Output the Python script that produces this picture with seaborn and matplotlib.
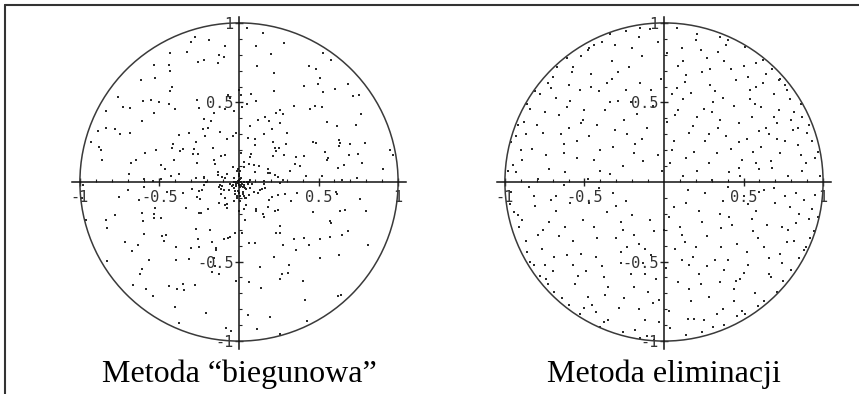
import numpy as np
import pandas as pd
import matplotlib
matplotlib.use('Agg')
import matplotlib.pyplot as plt
from matplotlib.patches import Circle
from matplotlib.lines import Line2D
from matplotlib.ticker import FixedLocator, FixedFormatter
import seaborn as sns

# Metoda "biegunowa": promien i kat (stopnie)
polar_r = [
    0.83, 0.12, 0.47, 0.95, 0.31, 0.06, 0.68, 0.54, 0.22, 0.79, 0.40, 0.91, 0.15, 0.63, 0.03, 0.37, 0.86, 0.58, 0.26, 0.72,
    0.09, 0.44, 0.97, 0.18, 0.66, 0.51, 0.29, 0.81, 0.02, 0.35, 0.74, 0.13, 0.59, 0.88, 0.42, 0.20, 0.69, 0.07, 0.93, 0.48,
    0.25, 0.77, 0.61, 0.11, 0.39, 0.84, 0.56, 0.04, 0.70, 0.33, 0.99, 0.17, 0.46, 0.64, 0.28, 0.89, 0.08, 0.52, 0.75, 0.36,
    0.60, 0.14, 0.87, 0.43, 0.01, 0.78, 0.30, 0.55, 0.92, 0.21, 0.67, 0.10, 0.49, 0.82, 0.38, 0.05, 0.73, 0.27, 0.96, 0.57,
    0.19, 0.65, 0.41, 0.90, 0.08, 0.53, 0.76, 0.32, 0.16, 0.85, 0.62, 0.04, 0.45, 0.71, 0.24, 0.98, 0.34, 0.11, 0.80, 0.50,
    0.93, 0.27, 0.06, 0.58, 0.81, 0.14, 0.44, 0.69, 0.37, 0.02, 0.87, 0.55, 0.20, 0.74, 0.09, 0.63, 0.41, 0.96, 0.30, 0.12,
    0.47, 0.78, 0.23, 0.03, 0.66, 0.39, 0.91, 0.15, 0.57, 0.84, 0.07, 0.33, 0.72, 0.50, 0.18, 0.88, 0.26, 0.61, 0.05, 0.95,
    0.35, 0.10, 0.82, 0.54, 0.29, 0.97, 0.13, 0.68, 0.42, 0.01, 0.76, 0.22, 0.59, 0.86, 0.31, 0.08, 0.64, 0.45, 0.90, 0.17,
    0.70, 0.04, 0.52, 0.37, 0.89, 0.19, 0.62, 0.28, 0.06, 0.80, 0.43, 0.94, 0.11, 0.56, 0.73, 0.25, 0.02, 0.67, 0.40, 0.85,
    0.14, 0.58, 0.99, 0.32, 0.07, 0.75, 0.48, 0.21, 0.83, 0.60, 0.03, 0.36, 0.92, 0.16, 0.65, 0.44, 0.79, 0.09, 0.53, 0.27,
    0.88, 0.41, 0.12, 0.69, 0.24, 0.05, 0.57, 0.93, 0.34, 0.77, 0.18, 0.62, 0.01, 0.46, 0.85, 0.30, 0.71, 0.10, 0.55, 0.97,
    0.06, 0.36, 0.74, 0.20, 0.90, 0.51, 0.13, 0.66, 0.39, 0.02, 0.81, 0.27, 0.59, 0.95, 0.08, 0.43, 0.68, 0.15, 0.87, 0.33,
    0.52, 0.96, 0.03, 0.29, 0.63, 0.84, 0.17, 0.47, 0.75, 0.10, 0.38, 0.91, 0.22, 0.06, 0.70, 0.55, 0.14, 0.82, 0.40, 0.64,
    0.23, 0.79, 0.45, 0.07, 0.98, 0.32, 0.58, 0.12, 0.86, 0.49, 0.04, 0.67, 0.35, 0.93, 0.19, 0.61, 0.28, 0.01, 0.76, 0.50,
    0.92, 0.15, 0.60, 0.38, 0.09, 0.73, 0.26, 0.85, 0.54, 0.03, 0.42, 0.97, 0.18, 0.65, 0.31, 0.80, 0.05, 0.48, 0.71, 0.11,
    0.37, 0.68, 0.02, 0.89, 0.44, 0.21, 0.77, 0.56, 0.08, 0.94, 0.33, 0.62, 0.13, 0.50, 0.83, 0.27, 0.72, 0.40, 0.06, 0.59,
    0.81, 0.25, 0.53, 0.14, 0.70, 0.99, 0.36, 0.04, 0.61, 0.43, 0.88, 0.19, 0.74, 0.09, 0.47, 0.30, 0.95, 0.57, 0.16, 0.66,
    0.11, 0.49, 0.87, 0.63, 0.01, 0.34, 0.78, 0.24, 0.92, 0.55, 0.07, 0.69, 0.41, 0.85, 0.20, 0.03, 0.58, 0.76, 0.29, 0.96,
    0.64, 0.08, 0.39, 0.82, 0.17, 0.57, 0.93, 0.45, 0.12, 0.73, 0.28, 0.05, 0.86, 0.52, 0.35, 0.67, 0.10, 0.90, 0.22, 0.44,
    0.02, 0.75, 0.31, 0.54, 0.97, 0.16, 0.62, 0.40, 0.84, 0.06, 0.48, 0.79, 0.26, 0.11, 0.68, 0.91, 0.37, 0.59, 0.04, 0.83,
]
polar_phi = [
    17, 203, 88, 311, 146, 262, 45, 179, 330, 97, 228, 5, 154, 276, 63, 349, 121, 237, 192, 72,
    289, 136, 12, 245, 168, 57, 321, 99, 214, 340, 81, 193, 258, 29, 115, 302, 176, 8, 224, 150,
    67, 352, 131, 208, 24, 274, 159, 93, 317, 41, 186, 239, 110, 295, 3, 167, 250, 78, 336, 127,
    218, 49, 283, 161, 103, 9, 345, 197, 265, 139, 34, 308, 84, 222, 172, 357, 56, 128, 247, 19,
    143, 298, 73, 233, 351, 118, 187, 266, 38, 157, 325, 209, 94, 14, 279, 181, 62, 327, 106, 252,
    36, 174, 316, 90, 208, 339, 22, 141, 255, 75, 196, 284, 124, 2, 163, 231, 309, 53, 189, 272,
    101, 240, 11, 182, 293, 58, 166, 343, 216, 129, 271, 31, 148, 314, 86, 199, 358, 69, 227, 152,
    261, 113, 347, 27, 155, 296, 77, 209, 5, 133, 243, 171, 318, 96, 43, 286, 190, 119, 334, 65,
    184, 312, 60, 137, 229, 18, 268, 105, 348, 213, 46, 160, 290, 82, 241, 7, 173, 329, 124, 256,
    329, 15, 194, 273, 85, 221, 142, 300, 52, 178, 6, 259, 118, 355, 202, 68, 236, 144, 28, 305,
    112, 246, 33, 170, 320, 91, 201, 277, 149, 13, 226, 353, 74, 188, 299, 40, 135, 263, 97, 211,
    248, 79, 303, 16, 158, 234, 61, 344, 120, 281, 195, 37, 253, 107, 332, 175, 21, 287, 147, 50,
    4, 165, 230, 98, 336, 44, 280, 153, 212, 71, 313, 126, 185, 359, 247, 89, 162, 26, 306, 198,
    335, 140, 55, 292, 10, 218, 117, 256, 83, 178, 322, 20, 239, 145, 66, 301, 200, 352, 100, 168,
    72, 288, 183, 39, 260, 125, 341, 59, 205, 297, 152, 87, 270, 1, 219, 109, 315, 238, 30, 193,
    206, 23, 326, 134, 251, 180, 47, 310, 95, 267, 12, 163, 229, 338, 76, 204, 127, 285, 346, 54,
    158, 307, 96, 214, 42, 285, 191, 138, 354, 64, 243, 117, 19, 275, 170, 324, 81, 226, 3, 132,
    294, 62, 171, 8, 236, 111, 324, 192, 42, 254, 99, 345, 150, 223, 25, 278, 203, 137, 70, 312,
    46, 219, 279, 122, 347, 14, 109, 251, 188, 333, 78, 207, 56, 295, 144, 9, 263, 37, 174, 234,
    268, 156, 94, 319, 57, 241, 337, 15, 129, 190, 305, 51, 221, 164, 282, 102, 18, 215, 327, 146,
]

# Metoda eliminacji: punkty (x, y)
elim_x = [
    0.42, -0.63, 0.15, -0.27, 0.81, -0.92, 0.05, 0.66, -0.39, -0.74, 0.28, 0.93, -0.11, 0.57, -0.52, 0.36, -0.84, 0.09, 0.72, -0.18,
    0.49, -0.68, 0.21, -0.45, 0.87, -0.06, 0.61, -0.33, 0.18, -0.89, 0.77, -0.57, 0.34, -0.24, 0.53, -0.71, 0.02, 0.44, -0.14, -0.96,
    0.69, -0.38, 0.12, 0.85, -0.61, 0.31, -0.48, 0.58, -0.21, 0.97, -0.79, 0.25, -0.03, 0.63, -0.55, 0.39, -0.86, 0.14, 0.75, -0.29,
    -0.64, 0.47, -0.09, 0.22, -0.42, 0.91, -0.76, 0.07, 0.54, -0.35, 0.83, -0.17, 0.38, -0.93, 0.11, -0.51, 0.67, -0.26, 0.29, -0.69,
    0.46, -0.04, 0.79, -0.58, 0.17, -0.81, 0.59, -0.31, 0.03, 0.71, -0.47, 0.26, -0.72, 0.51, -0.13, 0.88, -0.41, 0.33, -0.87, 0.64,
    -0.22, 0.41, -0.66, 0.16, -0.36, 0.94, -0.53, 0.08, 0.73, -0.95, 0.35, -0.12, 0.56, -0.78, 0.23, -0.44, 0.82, -0.07, 0.48, -0.62,
    0.13, -0.83, 0.62, -0.28, 0.37, -0.49, 0.76, -0.16, 0.04, 0.52, -0.73, 0.27, -0.34, 0.89, -0.59, 0.19, -0.05, 0.68, -0.91, 0.38,
    -0.25, 0.58, -0.67, 0.12, -0.43, 0.84, -0.19, 0.45, -0.82, 0.32, -0.34, 0.98, -0.37, 0.06, 0.71, -0.63, 0.24, -0.08, 0.55, -0.88,
    0.37, -0.46, 0.14, 0.86, -0.27, 0.49, -0.70, 0.02, 0.63, -0.32, 0.78, -0.57, 0.21, -0.97, 0.44, -0.15, 0.69, -0.40, 0.10, -0.74,
    0.53, -0.20, 0.30, -0.60, 0.80, -0.10, 0.35, -0.85, 0.60, -0.23, 0.17, -0.50, 0.74, -0.38, 0.90, -0.65, 0.27, -0.01, 0.50, -0.77,
    0.19, -0.52, 0.66, -0.30, 0.09, 0.85, -0.70, 0.40, -0.16, 0.57, -0.89, 0.31, -0.44, 0.76, -0.11, 0.22, -0.62, 0.47, -0.35, 0.95,
    -0.80, 0.06, 0.39, -0.56, 0.70, -0.24, 0.14, -0.93, 0.52, -0.06, 0.80, -0.47, 0.28, -0.72, 0.61, -0.13, 0.43, -0.44, 0.01, 0.89,
    -0.37, 0.65, -0.84, 0.26, -0.19, 0.40, -0.59, 0.35, -0.24, 0.73, -0.69, 0.11, 0.58, -0.09, 0.92, -0.53, 0.20, -0.41, 0.67, -0.75,
    0.33, -0.27, 0.84, -0.02, 0.46, -0.90, 0.15, -0.48, 0.60, -0.14, 0.74, -0.61, 0.29, -0.33, 0.50, -0.79, 0.07, 0.36, -0.55, 0.82,
    -0.18, 0.62, -0.42, 0.24, -0.68, 0.13, 0.79, -0.30, 0.54, -0.94, 0.03, 0.42, -0.50, 0.97, -0.21, 0.24, -0.60, 0.68, -0.12, 0.18,
    -0.86, 0.55, -0.36, 0.72, -0.07, 0.41, -0.66, 0.88, -0.26, 0.16, -0.15, 0.64, -0.82, 0.27, -0.51, 0.86, -0.20, 0.45, -0.73, 0.09,
    0.59, -0.39, 0.34, -0.98, 0.77, -0.12, 0.21, -0.48, 0.50, -0.32, 0.69, -0.04, 0.38, -0.75, 0.93, -0.23, 0.11, -0.63, 0.56, -0.43,
    0.25, -0.87, 0.71, -0.16, 0.44, -0.54, 0.83, -0.31, 0.05, 0.63, -0.71, 0.28, -0.25, 0.53, -0.96, 0.14, -0.40, 0.78, -0.08, 0.37,
    -0.60, 0.48, -0.29, 0.91, -0.47, 0.23, -0.81, 0.60, 0.00, 0.32, -0.52, 0.73, -0.19, 0.40, -0.76, 0.08, 0.66, -0.34, 0.20, -0.57,
    0.87, -0.03, 0.47, -0.68, 0.12, 0.51, -0.40, 0.35, -0.92, 0.76, -0.15, 0.30, -0.61, 0.95, -0.26, 0.16, -0.78, 0.58, -0.46, 0.04,
]
elim_y = [
    0.71, 0.18, -0.86, -0.44, 0.33, -0.21, 0.55, -0.58, 0.88, -0.61, 0.12, -0.17, -0.97, 0.49, 0.37, -0.29, 0.46, -0.63, 0.64, 0.24,
    -0.81, -0.09, 0.93, -0.77, 0.07, -0.31, 0.22, 0.65, -0.47, 0.14, -0.38, -0.52, 0.82, -0.12, -0.14, 0.59, 0.38, -0.67, 0.79, -0.06,
    0.41, -0.88, 0.04, -0.48, 0.78, -0.91, 0.02, 0.75, -0.58, 0.19, -0.33, 0.46, -0.74, -0.05, 0.26, 0.29, -0.44, 0.67, -0.62, 0.51,
    -0.73, 0.09, 0.96, -0.18, -0.35, 0.36, 0.31, -0.42, 0.58, -0.66, -0.26, 0.43, -0.55, 0.29, 0.84, -0.24, 0.13, -0.94, 0.61, -0.47,
    -0.39, 0.17, 0.52, 0.69, -0.75, -0.15, -0.78, 0.33, -0.22, 0.27, 0.84, -0.07, 0.08, 0.85, -0.51, -0.11, 0.57, -0.83, -0.37, 0.34,
    0.72, -0.22, 0.42, 0.31, -0.19, -0.31, -0.83, 0.59, -0.45, 0.11, 0.39, -0.87, -0.31, 0.55, -0.64, 0.14, 0.44, 0.48, -0.61, -0.28,
    -0.38, 0.21, 0.62, -0.79, 0.53, -0.56, -0.09, 0.91, -0.92, 0.27, -0.64, 0.78, 0.05, -0.41, 0.51, 0.19, -0.61, 0.71, -0.28, -0.90,
    0.39, -0.18, 0.72, 0.52, -0.47, 0.23, -0.33, 0.64, -0.52, -0.49, 0.93, 0.04, -0.71, 0.26, -0.69, -0.02, 0.69, -0.46, 0.41, 0.38,
    -0.12, 0.68, -0.96, 0.49, -0.25, 0.14, -0.56, 0.81, -0.41, 0.22, 0.04, -0.37, 0.41, -0.14, -0.75, 0.62, 0.55, -0.91, -0.28, 0.17,
    -0.52, 0.84, 0.01, 0.61, -0.55, -0.69, 0.91, -0.03, 0.08, -0.41, 0.56, 0.45, -0.28, -0.60, 0.31, 0.30, -0.34, 0.07, 0.73, -0.42,
    -0.86, 0.79, 0.30, -0.15, 0.73, -0.20, 0.66, -0.03, -0.80, -0.70, -0.24, 0.50, -0.28, 0.61, 0.34, -0.58, 0.06, 0.37, -0.87, -0.08,
    0.36, -0.16, 0.86, -0.64, -0.13, 0.58, 0.15, 0.06, -0.44, -0.99, 0.39, 0.29, -0.72, -0.25, 0.47, 0.13, -0.27, 0.86, -0.54, 0.12,
    0.45, -0.27, -0.50, 0.26, -0.66, 0.89, -0.13, -0.63, 0.95, 0.18, -0.69, -0.49, 0.60, -0.24, -0.35, 0.58, 0.89, -0.04, -0.60, 0.44,
    0.18, -0.51, 0.34, 0.65, -0.84, 0.20, -0.05, -0.72, 0.32, 0.27, -0.51, -0.46, 0.71, 0.76, -0.09, 0.02, 0.42, -0.41, 0.15, -0.37,
    -0.93, 0.77, 0.36, -0.25, 0.53, 0.63, -0.16, -0.35, 0.52, -0.19, -0.81, 0.21, -0.79, -0.22, 0.50, -0.94, 0.34, 0.09, -0.42, 0.35,
    0.49, -0.23, 0.62, 0.45, -0.76, 0.06, -0.34, -0.43, 0.10, -0.67, 0.97, 0.68, -0.09, -0.53, 0.39, 0.17, -0.21, -0.62, 0.62, 0.45,
    -0.35, -0.53, 0.34, 0.07, 0.58, -0.58, 0.07, 0.83, -0.57, -0.07, -0.04, 0.88, 0.76, -0.52, 0.26, 0.30, -0.33, 0.24, 0.19, -0.82,
    -0.87, 0.30, 0.37, -0.39, 0.48, -0.59, -0.07, 0.86, 0.20, -0.75, -0.11, 0.30, -0.73, 0.66, 0.25, -0.13, 0.20, -0.30, 0.58, -0.80,
    -0.77, 0.04, 0.69, -0.23, -0.13, 0.83, 0.57, -0.06, -0.30, 0.57, -0.45, 0.65, 0.18, -0.49, -0.30, 0.97, -0.48, 0.50, -0.41, 0.72,
    0.41, -0.88, 0.25, -0.18, 0.76, -0.83, 0.07, -0.20, 0.36, 0.26, -0.98, 0.44, 0.47, 0.15, -0.30, -0.52, -0.59, 0.12, 0.60, 0.12,
]

tick_values = [-1, -0.5, 0.5, 1]
tick_labels = ['-1', '-0.5', '0.5', '1']
minor_ticks = [-0.9, -0.8, -0.7, -0.6, -0.4, -0.3, -0.2, -0.1,
               0.1, 0.2, 0.3, 0.4, 0.6, 0.7, 0.8, 0.9]
captions = ['Metoda \u201cbiegunowa\u201d', 'Metoda eliminacji']

sns.set_style('white')
plt.rcParams['font.family'] = ['DejaVu Sans Mono']
plt.rcParams['axes.unicode_minus'] = False

W, H = 859, 394
fig = plt.figure(figsize=(W / 100, H / 100), dpi=100)

phi = np.deg2rad(polar_phi)
polar_df = pd.DataFrame({'x': np.array(polar_r) * np.cos(phi),
                         'y': np.array(polar_r) * np.sin(phi)})
elim_df = pd.DataFrame({'x': elim_x, 'y': elim_y})

centers = [239, 664]
for cx, df, caption in zip(centers, [polar_df, elim_df], captions):
    ax = fig.add_axes([(cx - 175) / W, (H - 182 - 175) / H, 350 / W, 350 / H])
    sns.scatterplot(data=df, x='x', y='y', ax=ax, s=1.1, marker='s',
                    color='#2a2a2a', linewidth=0, legend=False)
    ax.add_patch(Circle((0, 0), 1, fill=False, edgecolor='#3a3a3a', lw=1.1))
    ax.set_xlim(-1.1, 1.1)
    ax.set_ylim(-1.1, 1.1)
    ax.set_aspect('equal')
    ax.set_xlabel('')
    ax.set_ylabel('')
    for side in ['top', 'right']:
        ax.spines[side].set_visible(False)
    ax.spines['left'].set_position('zero')
    ax.spines['bottom'].set_position('zero')
    ax.spines['bottom'].set_bounds(-1.05, 1.05)
    ax.spines['left'].set_bounds(-1.05, 1.04)
    for side in ['left', 'bottom']:
        ax.spines[side].set_color('#111111')
        ax.spines[side].set_linewidth(1.1)
    ax.xaxis.set_major_locator(FixedLocator(tick_values))
    ax.xaxis.set_major_formatter(FixedFormatter(tick_labels))
    ax.yaxis.set_major_locator(FixedLocator(tick_values))
    ax.yaxis.set_major_formatter(FixedFormatter(tick_labels))
    ax.xaxis.set_minor_locator(FixedLocator(minor_ticks))
    ax.yaxis.set_minor_locator(FixedLocator(minor_ticks))
    ax.tick_params(which='both', bottom=True, left=True, colors='#222222')
    ax.tick_params(which='major', length=6, width=1, direction='inout',
                   labelsize=11, labelcolor='#333333')
    ax.tick_params(axis='x', which='major', pad=3)
    ax.tick_params(axis='y', which='major', pad=1)
    ax.tick_params(which='minor', length=2, width=0.8, direction='in')
    ax.set_facecolor('none')
    fig.text(cx / W, 1 - 382 / H, caption, ha='center', va='baseline',
             family=['Liberation Serif'], fontsize=23, color='black')

# ramka slajdu
fig.add_artist(Line2D([5 / W, 1], [1 - 5 / H, 1 - 5 / H], transform=fig.transFigure,
                      color='#333333', lw=1.5))
fig.add_artist(Line2D([5 / W, 5 / W], [0, 1 - 5 / H], transform=fig.transFigure,
                      color='#333333', lw=1.5))

fig.savefig('out.png', dpi=100)
